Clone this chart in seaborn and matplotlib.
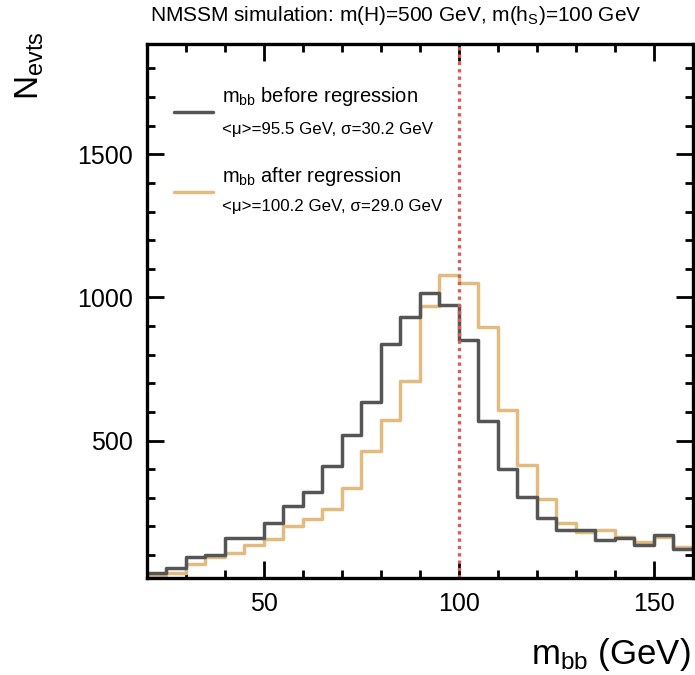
import numpy as np
import pandas as pd
import matplotlib
matplotlib.use("Agg")
import matplotlib.pyplot as plt
from matplotlib.lines import Line2D
from matplotlib.ticker import MultipleLocator
import seaborn as sns

# Binning of the di-b-jet invariant mass (GeV)
bin_edges = list(range(20, 165, 5))

# Event counts per 5 GeV bin
counts_before = [36, 55, 94, 101, 161, 161, 213, 271, 322, 411, 521, 634, 837, 932,
                 1017, 972, 852, 570, 399, 303, 228, 187, 186, 151, 160, 135, 169, 123]
counts_after = [29, 36, 68, 94, 106, 134, 157, 201, 227, 262, 335, 465, 572, 709,
                969, 1077, 1052, 895, 608, 413, 297, 211, 180, 187, 162, 147, 163, 129]

labels = ["m$_{bb}$ before regression", "m$_{bb}$ after regression"]
stats = ["<\u03bc>=95.5 GeV, \u03c3=30.2 GeV", "<\u03bc>=100.2 GeV, \u03c3=29.0 GeV"]
colors = ["#555555", "#e2bb80"]
hs_mass = 100

sns.set_theme(style="white")
plt.rcParams["font.family"] = ["Liberation Sans", "DejaVu Sans"]
plt.rcParams["mathtext.fontset"] = "custom"
plt.rcParams["mathtext.rm"] = "Liberation Sans"
plt.rcParams["mathtext.it"] = "Liberation Sans"
plt.rcParams["text.color"] = "black"
plt.rcParams["xtick.color"] = "black"
plt.rcParams["ytick.color"] = "black"

centers = (np.array(bin_edges[:-1]) + np.array(bin_edges[1:])) / 2
df = pd.concat([
    pd.DataFrame({"mbb": centers, "n": counts_before, "sample": labels[0]}),
    pd.DataFrame({"mbb": centers, "n": counts_after, "sample": labels[1]}),
])

fig = plt.figure(figsize=(6.95, 6.75), dpi=100)
ax = fig.add_axes([0.2115, 0.1437, 0.7855, 0.7911])

sns.histplot(data=df, x="mbb", weights="n", hue="sample", bins=bin_edges,
             element="step", fill=False, palette=dict(zip(labels, colors)),
             linewidth=2.5, legend=False, ax=ax)

ax.axvline(hs_mass, color="#dc5a5a", linestyle=(0, (1.0, 1.2)), linewidth=2.4)

ax.set_xlim(20, 160)
ax.set_ylim(20, 1885)
ax.xaxis.set_major_locator(MultipleLocator(50))
ax.xaxis.set_minor_locator(MultipleLocator(10))
ax.yaxis.set_major_locator(MultipleLocator(500))
ax.yaxis.set_minor_locator(MultipleLocator(100))
ax.tick_params(which="both", direction="in", top=True, right=True,
               bottom=True, left=True, color="black", width=2.0)
ax.tick_params(which="major", length=12, labelsize=18, pad=10, labelcolor="black")
ax.tick_params(which="minor", length=6)
ax.set_xticks([50, 100, 150])
ax.set_yticks([500, 1000, 1500])
for sp in ax.spines.values():
    sp.set_color("black")
    sp.set_linewidth(2.4)

ax.set_xlabel("")
ax.set_ylabel("")
fig.text(0.993, 0.03, "m$_{bb}$ (GeV)", ha="right", va="center", fontsize=25)
fig.text(0.043, 0.953, "N$_{evts}$", ha="center", va="top", rotation=90, fontsize=24)
fig.text(0.57, 0.977, "NMSSM simulation: m(H)=500 GeV, m(h$_S$)=100 GeV",
         ha="center", va="center", fontsize=15)

# Legend entries: line handle, sample name and fitted statistics
handle_y = [0.873, 0.723]
text_y = [0.901, 0.751]
stat_y = [0.839, 0.695]
for i in range(2):
    ax.add_line(Line2D([0.049, 0.121], [handle_y[i], handle_y[i]], transform=ax.transAxes,
                       color=colors[i], linewidth=2.5))
    ax.text(0.137, text_y[i], labels[i], transform=ax.transAxes, ha="left",
            va="center", fontsize=14.5)
    ax.text(0.137, stat_y[i], stats[i], transform=ax.transAxes, ha="left",
            va="center", fontsize=12.2)

fig.savefig("out.png", dpi=100, facecolor="white")
